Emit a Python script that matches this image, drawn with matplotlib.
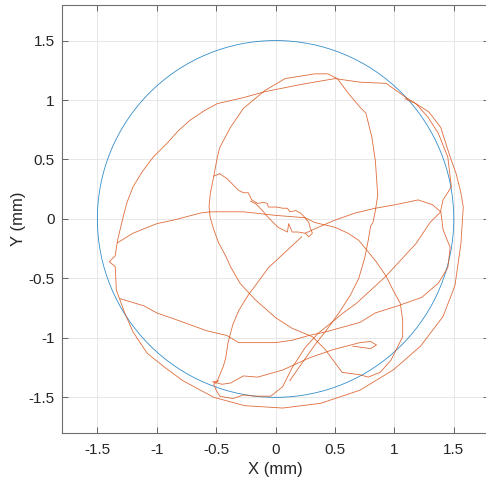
import matplotlib
matplotlib.use("Agg")
import matplotlib.pyplot as plt
from matplotlib.patches import Circle

# ---- data (mm) ----
circle_center = (0.0, 0.0)
circle_radius = 1.5

outer_x = [1.10, 0.93, 0.71, 0.50, 0.21, -0.09, -0.27, -0.49, -0.60, -0.72, -0.82, -0.91, -1.03, -1.12,
           -1.20, -1.25, -1.28, -1.33, -1.35, -1.40, -1.35, -1.34, -1.31, -1.27, -1.20, -1.08, -0.93, -0.78,
           -0.52, -0.26, 0.06, 0.38, 0.71, 0.99, 1.22, 1.41, 1.51, 1.56, 1.58, 1.56, 1.52, 1.47, 1.39, 1.29,
           1.18, 1.10]
outer_y = [1.02, 1.14, 1.15, 1.18, 1.13, 1.07, 1.02, 0.97, 0.91, 0.83, 0.74, 0.64, 0.52, 0.40,
           0.27, 0.14, 0.03, -0.18, -0.31, -0.36, -0.40, -0.60, -0.68, -0.79, -0.95, -1.13, -1.25, -1.36,
           -1.50, -1.57, -1.59, -1.55, -1.44, -1.27, -1.07, -0.82, -0.56, -0.21, 0.10, 0.22, 0.38, 0.52, 0.77,
           0.90, 0.97, 1.02]

inner_x = [-0.47, -0.52, -0.49, -0.47, -0.38, -0.27, -0.09, 0.08, 0.33, 0.44, 0.52, 0.61, 0.71, 0.76, 0.81,
           0.84, 0.86, 0.84, 0.82, 0.80, 0.78, 0.75, 0.70, 0.63, 0.54, 0.44, 0.33, 0.21, 0.12]
inner_y = [0.38, 0.36, 0.52, 0.60, 0.77, 0.93, 1.08, 1.18, 1.22, 1.22, 1.18, 1.06, 0.94, 0.89, 0.69,
           0.49, 0.20, 0.07, -0.03, -0.06, -0.18, -0.33, -0.50, -0.64, -0.78, -0.92, -1.06, -1.23, -1.36]

left_x = [-0.52, -0.55, -0.56, -0.55, -0.52, -0.48, -0.42, -0.38, -0.30, -0.17, 0.00, 0.14, 0.31, 0.42,
          0.56, 0.71, 0.78, 0.88, 0.97, 1.02, 1.07, 1.07, 1.05, 0.99, 0.93, 0.84, 0.70, 0.61, 0.50, 0.33,
          0.25, 0.00, -0.27, -0.55, -0.63, -0.86, -1.00, -1.20, -1.33]
left_y = [0.36, 0.21, 0.10, 0.01, -0.09, -0.20, -0.31, -0.40, -0.54, -0.68, -0.83, -0.92, -0.99, -1.10,
          -1.29, -1.31, -1.33, -1.29, -1.19, -1.09, -0.99, -0.85, -0.71, -0.60, -0.48, -0.35, -0.18, -0.12,
          -0.07, -0.03, 0.01, 0.03, 0.06, 0.06, 0.05, -0.01, -0.04, -0.12, -0.20]

right_x = [1.09, 1.18, 1.28, 1.37, 1.45, 1.47, 1.48, 1.41, 1.39, 1.41, 1.47, 1.45, 1.37, 1.23, 1.03, 0.84,
           0.71, 0.42, 0.28, 0.14, 0.00, -0.15, -0.31, -0.41, -0.58, -0.80, -1.00, -1.11, -1.31]
right_y = [1.01, 0.97, 0.86, 0.72, 0.52, 0.35, 0.27, 0.16, 0.07, -0.09, -0.24, -0.41, -0.54, -0.66, -0.73,
           -0.79, -0.87, -0.95, -0.98, -1.02, -1.04, -1.04, -1.04, -0.98, -0.94, -0.86, -0.79, -0.73, -0.67]

diag_x = [0.25, 0.36, 0.50, 0.67, 0.84, 1.01, 1.20, 1.32, 1.39, 1.30, 1.18, 1.05, 0.93, 0.80, 0.68, 0.57,
          0.46, 0.36, 0.25, 0.14, 0.06, -0.04, -0.17, -0.27, -0.36, -0.47, -0.50, -0.52, -0.48, -0.53,
          -0.45, -0.38, -0.27, -0.15, 0.06, 0.28, 0.48, 0.71, 0.80, 0.85, 0.80, 0.65]
diag_y = [-0.12, -0.07, -0.01, 0.05, 0.09, 0.12, 0.16, 0.12, 0.06, -0.03, -0.21, -0.35, -0.48, -0.60,
          -0.71, -0.79, -0.88, -0.96, -1.08, -1.25, -1.41, -1.49, -1.49, -1.48, -1.51, -1.49, -1.44, -1.39,
          -1.36, -1.37, -1.39, -1.38, -1.32, -1.33, -1.27, -1.17, -1.10, -1.04, -1.03, -1.06, -1.09, -1.07]

steep_x = [0.22, 0.08, -0.06, -0.17, -0.23, -0.31, -0.36, -0.40, -0.42, -0.44, -0.49]
steep_y = [-0.15, -0.28, -0.41, -0.56, -0.64, -0.77, -0.89, -1.04, -1.17, -1.24, -1.36]

blob_x = [-0.47, -0.41, -0.38, -0.31, -0.27, -0.23, -0.20, -0.15, -0.10, -0.07, -0.06, 0.01, 0.06, 0.10,
          0.12, 0.17, 0.21, 0.24, 0.28, 0.29, 0.31, 0.28, 0.25, 0.19, 0.14, 0.11, 0.10, 0.02, -0.06, -0.11,
          -0.17, -0.21]
blob_y = [0.38, 0.34, 0.31, 0.24, 0.22, 0.22, 0.16, 0.13, 0.14, 0.13, 0.10, 0.10, 0.09, 0.09,
          0.06, 0.07, 0.05, 0.02, -0.03, -0.07, -0.12, -0.15, -0.12, -0.11, -0.11, -0.04, -0.11, -0.07, 0.01,
          0.07, 0.13, 0.15]

ticks = [-1.5, -1, -0.5, 0, 0.5, 1, 1.5]
tick_labels = ["-1.5", "-1", "-0.5", "0", "0.5", "1", "1.5"]
lim = (-1.8, 1.8)

# ---- figure ----
plt.rcParams['font.family'] = ['Liberation Sans', 'DejaVu Sans']
fig = plt.figure(figsize=(4.86, 4.86), dpi=100)
ax = fig.add_axes([0.127, 0.109, 0.880, 0.881])

blue = '#0072BD'
orange = '#D95319'

ax.add_patch(Circle(circle_center, circle_radius, fill=False, edgecolor=blue,
                    linewidth=0.6, alpha=0.8))

for xs, ys in [(outer_x, outer_y), (inner_x, inner_y), (left_x, left_y), (right_x, right_y),
               (diag_x, diag_y), (steep_x, steep_y), (blob_x, blob_y)]:
    ax.plot(xs, ys, color=orange, linewidth=0.6, alpha=0.85)

ax.set_xlim(*lim)
ax.set_ylim(*lim)
ax.set_xticks(ticks)
ax.set_xticklabels(tick_labels)
ax.set_yticks(ticks)
ax.set_yticklabels(tick_labels)
ax.grid(True, color='#e3e3e3', linewidth=0.6)
ax.set_axisbelow(True)
ax.tick_params(direction='in', length=4, width=0.6, color='#4d4d4d', labelsize=11,
               labelcolor='#262626', top=True, right=True)
ax.tick_params(axis='y', pad=5)
ax.tick_params(axis='x', pad=7)
for s in ax.spines.values():
    s.set_color('#6e6e6e')
    s.set_linewidth(0.8)
ax.set_xlabel('X (mm)', fontsize=12, color='#262626', labelpad=4)
ax.set_ylabel('Y (mm)', fontsize=12, color='#262626', labelpad=2)

fig.savefig('out.png', dpi=100)
